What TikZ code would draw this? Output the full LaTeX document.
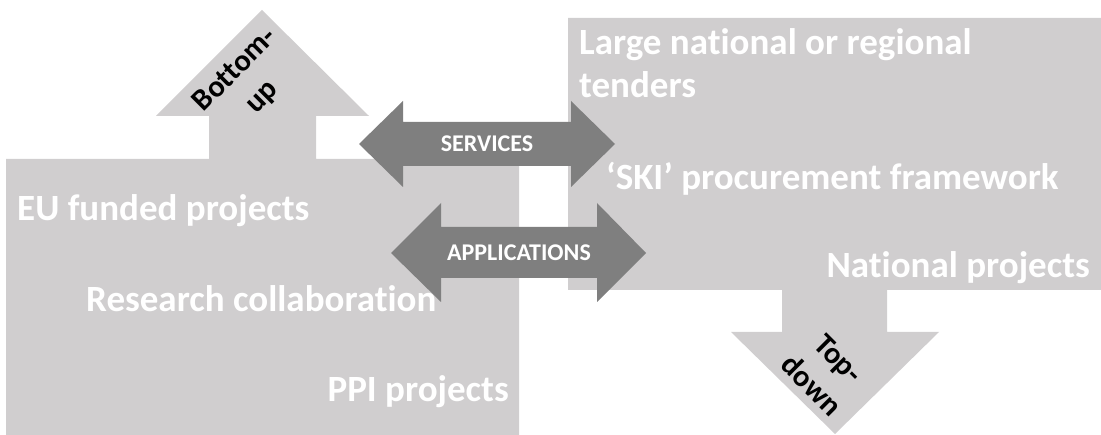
\documentclass[tikz,border=0pt]{standalone}
\usepackage{fontspec}
\setmainfont{Carlito}[Ligatures={NoCommon}]
\definecolor{boxgrey}{HTML}{D0CECF}
\definecolor{arrgrey}{HTML}{7F7F7F}
\begin{document}
\begin{tikzpicture}[x=1pt,y=-1pt,
  boxfill/.style={fill=boxgrey},
  dblarrow/.style={fill=arrgrey},
  bigtext/.style={text=white,font=\fontsize{37}{44}\selectfont\bfseries,inner sep=0pt},
  arrtext/.style={text=white,font=\fontsize{24}{29}\selectfont\bfseries,inner sep=0pt},
  dirtext/.style={text=black,font=\fontsize{30.5}{38}\selectfont\bfseries,align=center,inner sep=0pt}]
\useasboundingbox (0,0) rectangle (1101,435);
% left block with up arrow
\fill[boxfill] (6,435) -- (6,159) -- (209,159) -- (209,116) -- (156,116) -- (262,10) -- (369,116) -- (316,116) -- (316,159) -- (519,159) -- (519,435) -- cycle;
% right block with down arrow
\fill[boxfill] (568,18) -- (1101,18) -- (1101,290) -- (887,290) -- (887,332) -- (939,332) -- (835,434) -- (731,332) -- (782,332) -- (782,290) -- (568,290) -- cycle;
% double arrows
\fill[dblarrow] (359,144) -- (403,101) -- (403,122) -- (571,122) -- (571,101) -- (615,144) -- (571,187) -- (571,166) -- (403,166) -- (403,187) -- cycle;
\fill[dblarrow] (391,253) -- (441,203) -- (441,227) -- (597,227) -- (597,203) -- (646,253) -- (597,302) -- (597,278) -- (441,278) -- (441,302) -- cycle;
% texts
\node[arrtext] (serv) at (487,144) {SERVICES};
\node[arrtext] (appl) at (519,253) {APPLICATIONS};
\node[dirtext,rotate=45] (bu) at (249,84) {Bottom-\\up};
\node[dirtext,rotate=-45] (td) at (825,372) {Top-\\down};
\node[bigtext,anchor=base west] (eu) at (17,221) {EU funded projects};
\node[bigtext,anchor=base west] (rc) at (86,312) {Research collaboration};
\node[bigtext,anchor=base east] (ppi) at (509,402) {PPI projects};
\node[bigtext,anchor=base west] (lnr) at (579,55) {Large national or regional};
\node[bigtext,anchor=base west] (tend) at (579,98) {tenders};
\node[bigtext,anchor=base west] (ski) at (606,190) {‘SKI’ procurement framework};
\node[bigtext,anchor=base east] (nat) at (1090,278) {National projects};
\end{tikzpicture}
\end{document}
